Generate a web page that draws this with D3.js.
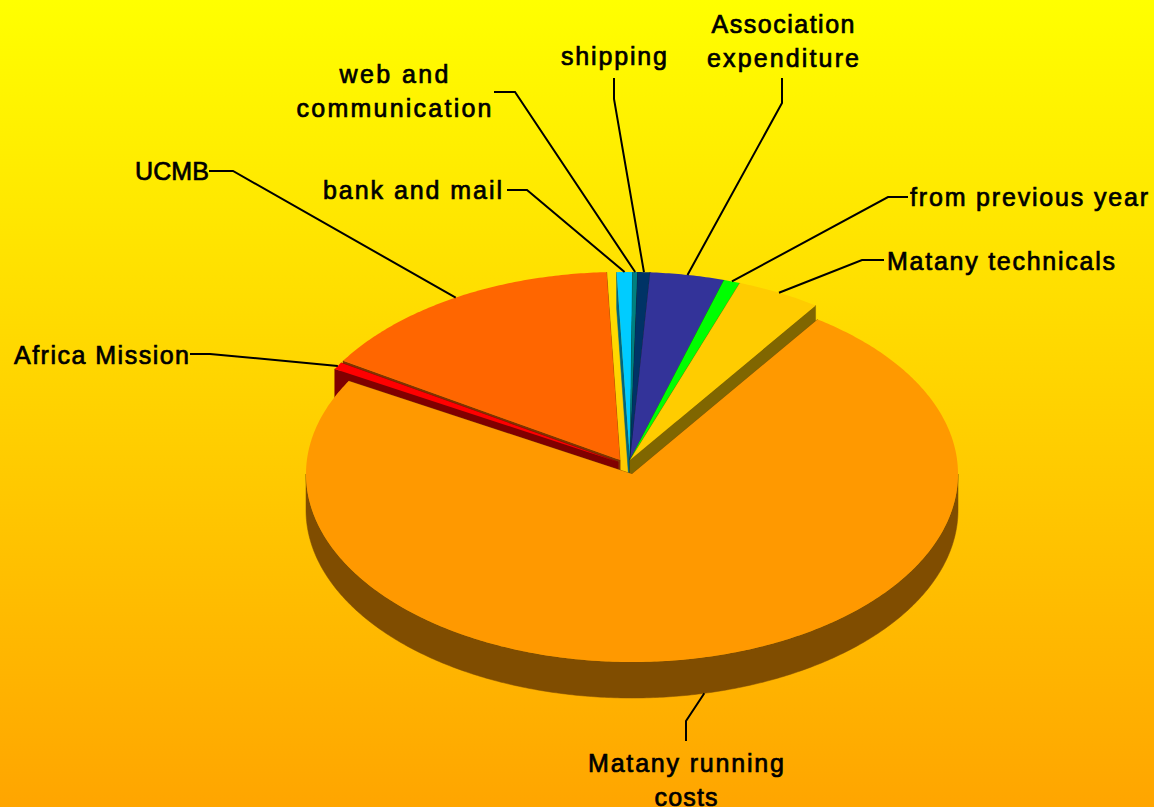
<!DOCTYPE html>
<html><head><meta charset="utf-8"><style>html,body{margin:0;padding:0;background:#fc0}svg{display:block}</style>
<script src="https://cdn.jsdelivr.net/npm/d3@7/dist/d3.min.js"></script></head><body><script>
// Data (share of total, %)
const categories = ["Matany running costs","Africa Mission","UCMB","bank and mail","web and communication","shipping","Association expenditure","from previous year","Matany technicals"];
const values = [73.58,0.6,15.5,0.78,0.25,0.61,3.67,0.81,4.17];
const colors = ["#ff9900","#ff0000","#ff6600","#00ccff","#008080","#003366","#333399","#00ff00","#ffcc00"];
const wallColors = ["#804d00","#800000","#803300","#006680","#004040","#001a33","#1a1a4d","#008000","#806600"];
// Layout
const W=1154,H=807, RX=326, RY=188, DEPTH=36, START=34.7;
const centerX=[632,618,620,630,630,630,630,630,630];
const centerY=[474,462,460,460,460,460,460,460,460];
const drawOrder=[2,3,4,5,6,7,8,1,0];
const labelLines=[["Matany running","costs"],["Africa Mission"],["UCMB"],["bank and mail"],["web and","communication"],["shipping"],["Association","expenditure"],["from previous year"],["Matany technicals"]];
const labelWidths=[[196,63],[175],[74],[179],[109,195],[106],[143,152],[238],[228]];
const labelX=[686,14,135,502,394,614,783,910,887];
const labelY=[772,364,180,199,83,65,33,206,270];
const labelAnchor=["middle","start","start","end","middle","middle","middle","start","start"];
const elbowA=[[686,721],[210,354],[233,171],[527,190],[515,92],[614,99],[782,103],[888,197],[862,260]];
const elbowB=[[686,741],[190,354],[209,171],[507,190],[494,92],[614,78],[782,78],[908,197],[884,260]];

const svg=d3.select("body").append("svg").attr("width",W).attr("height",H).attr("viewBox",[0,0,W,H]);
const grad=svg.append("defs").append("linearGradient").attr("id","bg").attr("x1",0).attr("y1",0).attr("x2",0).attr("y2",1);
grad.append("stop").attr("offset",0).attr("stop-color","#ffff00");
grad.append("stop").attr("offset",1).attr("stop-color","#ffa500");
svg.append("rect").attr("width",W).attr("height",H).attr("fill","url(#bg)");

const s0=START*Math.PI/180;
const arcs=d3.pie().sort(null).startAngle(s0).endAngle(s0+2*Math.PI)(values);
const proj=(i,a,dz=0)=>[centerX[i]+RX*Math.sin(a), centerY[i]-RY*Math.cos(a)+dz];
const line=d3.line().curve(d3.curveLinear);
const rim=(i,a0,a1,dz=0)=>{const n=Math.max(2,Math.ceil((a1-a0)/0.01));return d3.range(n+1).map(k=>proj(i,a0+(a1-a0)*k/n,dz));};
const apex=(i,dz=0)=>[centerX[i],centerY[i]+dz];

const pie=svg.append("g");
drawOrder.forEach(i=>{
  const {startAngle:a0,endAngle:a1}=arcs[i];
  const wall=pie.append("g").attr("fill",wallColors[i]).attr("stroke",wallColors[i]).attr("stroke-width",0.5);
  [a0,a1].forEach(a=>wall.append("path").attr("d",line([apex(i),proj(i,a),proj(i,a,DEPTH),apex(i,DEPTH)])+"Z"));
  const f0=Math.max(a0,Math.PI/2), f1=Math.min(a1,Math.PI*1.5);
  if(f1>f0) wall.append("path").attr("d",line([...rim(i,f0,f1),...rim(i,f0,f1,DEPTH).reverse()])+"Z");
  pie.append("path").attr("fill",colors[i]).attr("d",line([apex(i),...rim(i,a0,a1)])+"Z");
});

const font='"Liberation Sans", Arial, sans-serif';
categories.forEach((c,i)=>{
  const d=arcs[i], m=(d.startAngle+d.endAngle)/2, front=Math.cos(m)<0;
  svg.append("path").attr("fill","none").attr("stroke","#000").attr("stroke-width",2)
    .attr("d",line([proj(i,m,front?DEPTH:0),elbowA[i],elbowB[i]]));
  const t=svg.append("text").attr("font-family",font).attr("font-size",25).attr("fill","#000")
    .attr("stroke","#000").attr("stroke-width",0.7)
    .attr("text-anchor",labelAnchor[i]);
  labelLines[i].forEach((l,k)=>t.append("tspan").attr("x",labelX[i]).attr("y",labelY[i]+k*34)
    .attr("textLength",labelWidths[i][k]).attr("lengthAdjust","spacing").text(l));
});
</script></body></html>
